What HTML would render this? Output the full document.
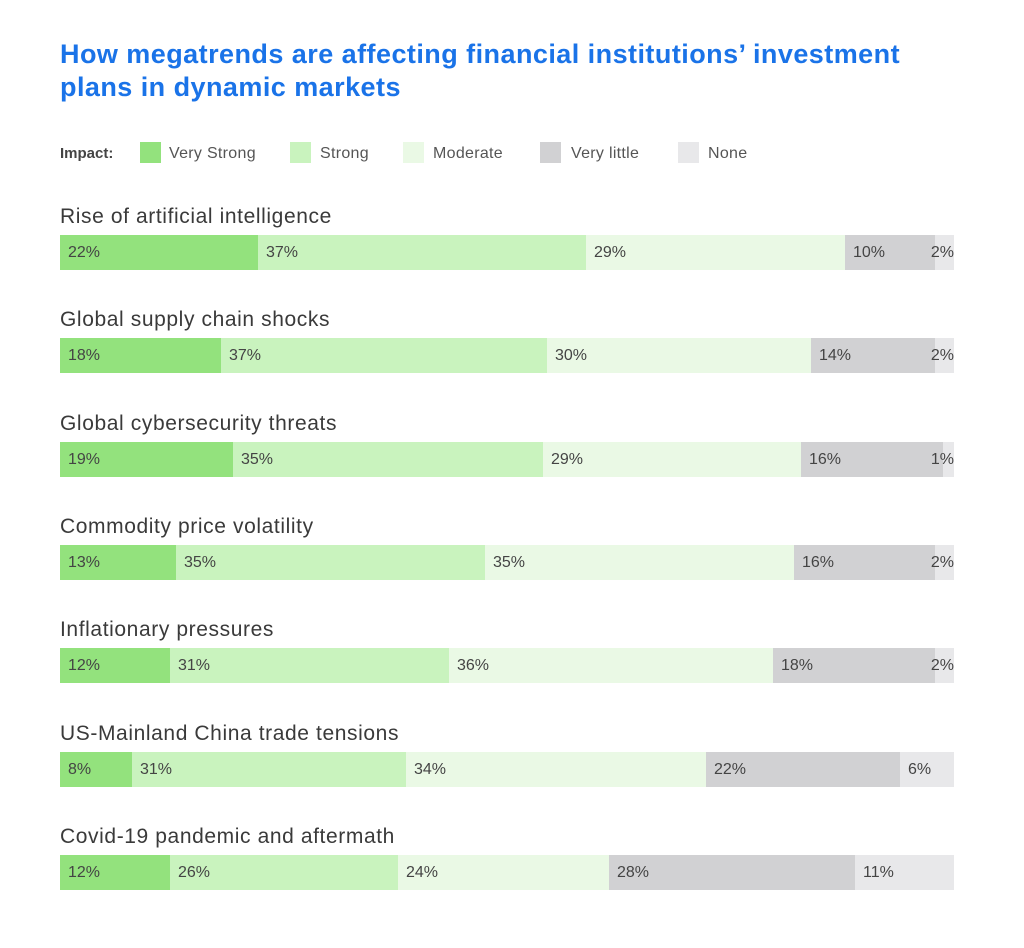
<!DOCTYPE html>
<html><head><style>
body{margin:0;width:1024px;height:948px;background:#fff;font-family:"Liberation Sans",sans-serif;position:relative;overflow:hidden}
.t{position:absolute;left:60px;top:38px;color:#1a73e8;font-weight:bold;font-size:27px;line-height:33px;letter-spacing:0.45px;white-space:nowrap}
.lg{position:absolute;top:143px;font-size:16px;color:#555;line-height:22px;letter-spacing:0.3px}
.sq{position:absolute;top:142px;width:21px;height:21px}
.lab{position:absolute;left:60px;font-size:21px;color:#3a3a3a;letter-spacing:0.6px;white-space:nowrap}
.seg{position:absolute;height:35px;font-size:16px;color:#444;line-height:35px;box-sizing:border-box;padding-left:8px;white-space:nowrap}
.sm{padding-left:0;direction:rtl;text-align:right}
.sm span{position:absolute;right:0}
.a{background:#93e27d}.b{background:#c9f3be}.c{background:#eaf9e5}.d{background:#d1d1d3}.e{background:#e8e8ea}
</style></head><body>
<div class="t">How megatrends are affecting financial institutions’ investment<br>plans in dynamic markets</div>
<div class="lg" style="left:60px;font-weight:bold;color:#444;font-size:15px;letter-spacing:0">Impact:</div>
<div class="sq a" style="left:140px"></div><div class="lg" style="left:169px">Very Strong</div>
<div class="sq b" style="left:290px"></div><div class="lg" style="left:320px">Strong</div>
<div class="sq c" style="left:403px"></div><div class="lg" style="left:433px">Moderate</div>
<div class="sq d" style="left:540px"></div><div class="lg" style="left:571px">Very little</div>
<div class="sq e" style="left:678px"></div><div class="lg" style="left:708px">None</div>
<div id="c"></div>
<script>
var rows=[["Rise of artificial intelligence",[60,258,586,845,935,954],["22%","37%","29%","10%","2%"]],
["Global supply chain shocks",[60,221,547,811,935,954],["18%","37%","30%","14%","2%"]],
["Global cybersecurity threats",[60,233,543,801,943,954],["19%","35%","29%","16%","1%"]],
["Commodity price volatility",[60,176,485,794,935,954],["13%","35%","35%","16%","2%"]],
["Inflationary pressures",[60,170,449,773,935,954],["12%","31%","36%","18%","2%"]],
["US-Mainland China trade tensions",[60,132,406,706,900,954],["8%","31%","34%","22%","6%"]],
["Covid-19 pandemic and aftermath",[60,170,398,609,855,954],["12%","26%","24%","28%","11%"]]];
var cls="abcde",h="";
rows.forEach(function(r,i){var y=235+i*103.3;
h+='<div class="lab" style="top:'+(y-30)+'px">'+r[0]+'</div>';
for(var k=0;k<5;k++){var x=r[1][k],w=r[1][k+1]-x;
if(w<30){h+='<div class="seg sm '+cls[k]+'" style="left:'+x+'px;top:'+y+'px;width:'+w+'px;"><span>'+r[2][k]+'</span></div>';}
else h+='<div class="seg '+cls[k]+'" style="left:'+x+'px;top:'+y+'px;width:'+w+'px;">'+r[2][k]+'</div>';}});
document.getElementById("c").innerHTML=h;
</script>
</body></html>
